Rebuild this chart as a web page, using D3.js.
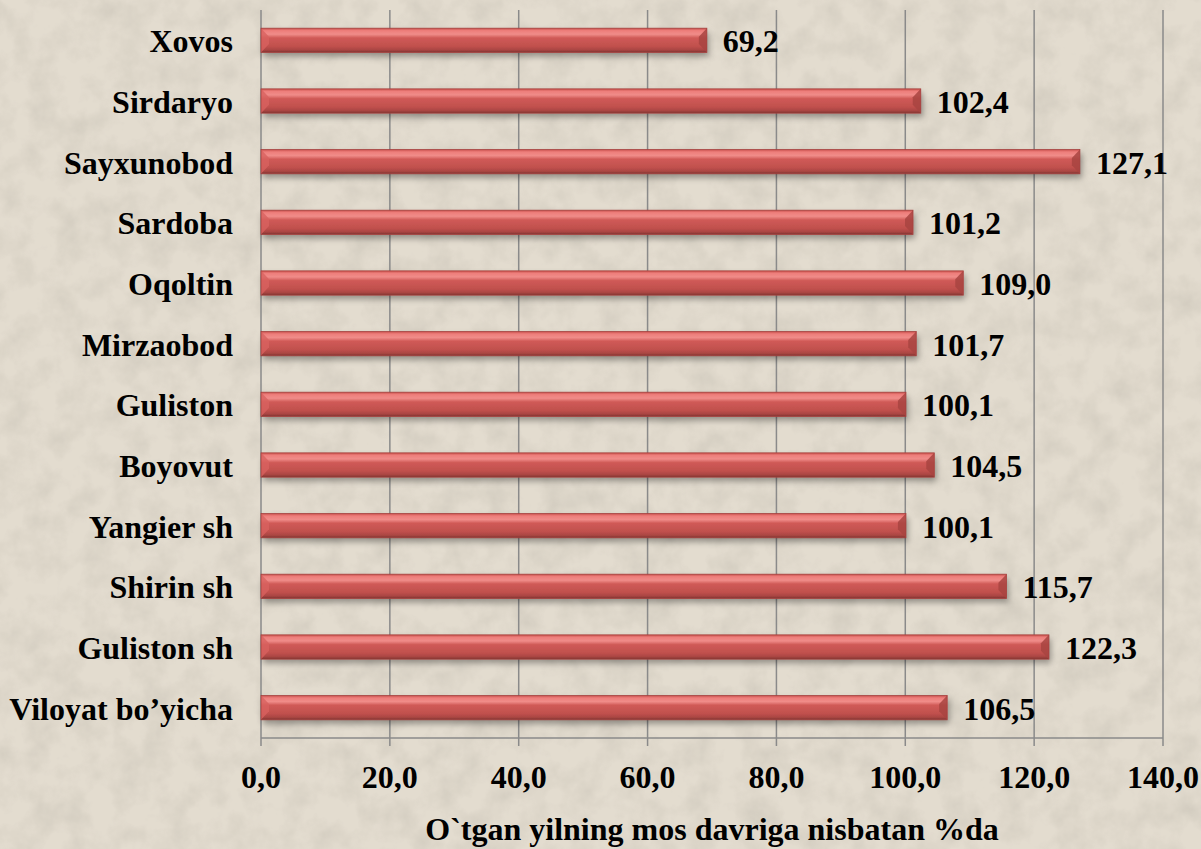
<!DOCTYPE html>
<html>
<head>
<meta charset="utf-8">
<script src="https://cdn.jsdelivr.net/npm/d3@7"></script>
<style>
  html, body { margin: 0; padding: 0; background: #e3dccf; }
  svg { display: block; }
</style>
</head>
<body>
<svg id="chart" width="1201" height="849"></svg>
<script>
// 범주 (위에서 아래로)
const categories = ["Xovos", "Sirdaryo", "Sayxunobod", "Sardoba", "Oqoltin", "Mirzaobod",
  "Guliston", "Boyovut", "Yangier sh", "Shirin sh", "Guliston sh", "Viloyat bo’yicha"];
const values = [69.2, 102.4, 127.1, 101.2, 109.0, 101.7, 100.1, 104.5, 100.1, 115.7, 122.3, 106.5];
const xTicks = [0, 20, 40, 60, 80, 100, 120, 140];
const axisTitle = "O`tgan yilning mos davriga nisbatan %da";

const W = 1201, H = 849;
const m = { left: 261, right: 38, top: 10, bottom: 111 };
const FONT = "Liberation Serif";
const FS = 32;
const svg = d3.select("#chart");
const defs = svg.append("defs");

// 배경 질감
const tex = defs.append("filter").attr("id", "tex").attr("x", 0).attr("y", 0).attr("width", 1).attr("height", 1);
tex.append("feTurbulence").attr("type", "fractalNoise").attr("baseFrequency", 0.035).attr("numOctaves", 4).attr("seed", 7);
tex.append("feColorMatrix").attr("type", "matrix")
  .attr("values", "0 0 0 0 0.45  0 0 0 0 0.42  0 0 0 0 0.36  0 0 0 -1.6 1.0");
tex.append("feComposite").attr("in2", "SourceGraphic").attr("operator", "in");
svg.append("rect").attr("width", W).attr("height", H).attr("fill", "#e3dccf");
svg.append("rect").attr("width", W).attr("height", H).attr("fill", "#e3dccf").attr("filter", "url(#tex)").attr("opacity", 0.35);

// 막대 그라데이션
const grad = defs.append("linearGradient").attr("id", "barGrad").attr("x1", 0).attr("y1", 0).attr("x2", 0).attr("y2", 1);
[[0, "#c8504d"], [0.1, "#ee7e7b"], [0.25, "#f08c89"], [0.4, "#d05a57"], [0.75, "#c0504d"], [0.9, "#a94542"], [1, "#7e3230"]]
  .forEach(([o, c]) => grad.append("stop").attr("offset", o).attr("stop-color", c));
const shadow = defs.append("filter").attr("id", "shadow").attr("x", -0.05).attr("y", -0.5).attr("width", 1.1).attr("height", 2);
shadow.append("feDropShadow").attr("dx", 2).attr("dy", 4).attr("stdDeviation", 3).attr("flood-color", "#000").attr("flood-opacity", 0.35);

const x = d3.scaleLinear().domain([0, 140]).range([m.left, W - m.right]);
const y = d3.scaleBand().domain(categories).range([m.top, H - m.bottom]).paddingInner(0.6).paddingOuter(0.3);

// 세로 격자선
svg.append("g").selectAll("line").data(xTicks).join("line")
  .attr("x1", d => x(d)).attr("x2", d => x(d))
  .attr("y1", m.top).attr("y2", H - m.bottom + 8)
  .attr("stroke", "#8a8a8a").attr("stroke-width", 1.5);
// 아래 축선
svg.append("line").attr("x1", x(0)).attr("x2", x(140))
  .attr("y1", H - m.bottom).attr("y2", H - m.bottom)
  .attr("stroke", "#8a8a8a").attr("stroke-width", 1.5);

// 막대
const bars = svg.append("g").selectAll("g").data(categories).join("g")
  .attr("transform", d => `translate(0,${y(d)})`);
const bh = y.bandwidth();
bars.append("rect")
  .attr("x", x(0)).attr("y", 0)
  .attr("width", (d, i) => x(values[i]) - x(0)).attr("height", bh)
  .attr("fill", "url(#barGrad)").attr("filter", "url(#shadow)");
// 양끝 베벨
const bev = 8;
bars.append("path")
  .attr("d", `M${x(0)},0 L${x(0) + bev},${bh * 0.35} L${x(0) + bev},${bh * 0.65} L${x(0)},${bh} Z`)
  .attr("fill", "#d8625f").attr("opacity", 0.8);
bars.append("path")
  .attr("d", (d, i) => { const e = x(values[i]); return `M${e},0 L${e - bev},${bh * 0.35} L${e - bev},${bh * 0.65} L${e},${bh} Z`; })
  .attr("fill", "#a84441").attr("opacity", 0.85);
bars.append("rect")
  .attr("x", x(0)).attr("y", 0)
  .attr("width", (d, i) => x(values[i]) - x(0)).attr("height", bh)
  .attr("fill", "none").attr("stroke", "#a6413f").attr("stroke-width", 0.8);

function styleText(sel) {
  return sel.attr("font-family", FONT).attr("font-weight", "bold")
    .attr("font-size", FS).attr("fill", "#000").attr("dominant-baseline", "central");
}

// 값 라벨
bars.append("text")
  .attr("x", (d, i) => x(values[i]) + 16).attr("y", bh / 2 + 1)
  .call(styleText)
  .text((d, i) => values[i].toFixed(1).replace(".", ","));

// 범주 라벨
svg.append("g").selectAll("text").data(categories).join("text")
  .attr("x", 233).attr("y", d => y(d) + bh / 2 + 1)
  .attr("text-anchor", "end")
  .call(styleText)
  .text(d => d);

// x 눈금 라벨
svg.append("g").selectAll("text").data(xTicks).join("text")
  .attr("x", d => x(d)).attr("y", 777)
  .attr("text-anchor", "middle")
  .call(styleText)
  .text(d => d.toFixed(1).replace(".", ","));

// 축 제목
svg.append("text").attr("x", x(70)).attr("y", 829)
  .attr("text-anchor", "middle")
  .call(styleText)
  .text(axisTitle);
</script>
</body>
</html>
